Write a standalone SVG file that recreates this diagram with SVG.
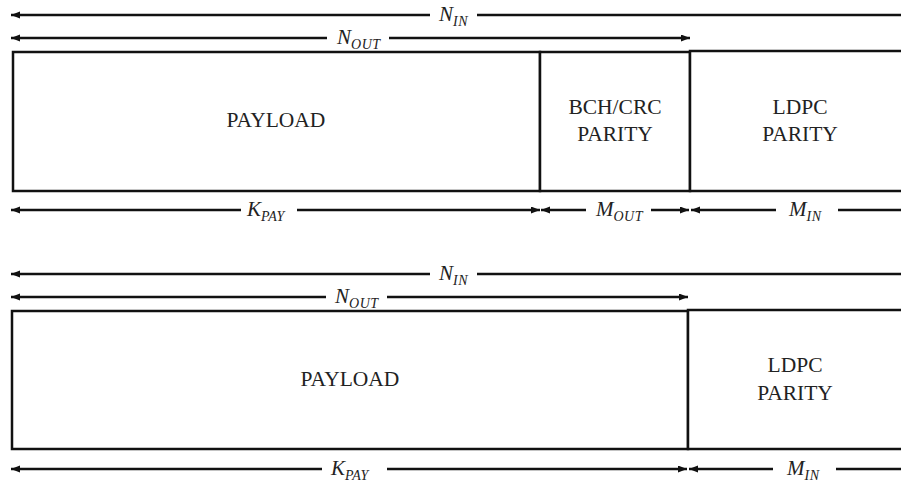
<svg xmlns="http://www.w3.org/2000/svg" width="901" height="484" viewBox="0 0 901 484">
<style>
.box{fill:#fff;stroke:#111;stroke-width:2.5}
.dim{stroke:#111;stroke-width:2.5;fill:none;marker-end:url(#ah)}
.lbl{font-family:"Liberation Serif",serif;font-size:21.5px;fill:#222;text-anchor:middle}
.m{font-family:"Liberation Serif",serif;font-style:italic;font-size:21px;fill:#222}
.s{font-size:14px;letter-spacing:0.5px}
</style>
<defs>
<marker id="ah" markerUnits="userSpaceOnUse" markerWidth="10" markerHeight="8" refX="9" refY="3.5" orient="auto">
<path d="M0,0 L9,3.5 L0,7 z" fill="#111"/>
</marker>
</defs>
<rect width="901" height="484" fill="#fff"/>
<g id="frame1">
<g id="payload1"><rect class="box" x="13" y="52" width="527" height="139"/><text class="lbl" x="276" y="127">PAYLOAD</text></g>
<g id="bchcrc1"><rect class="box" x="540" y="52" width="150" height="139"/><text class="lbl" x="615" y="114">BCH/CRC</text><text class="lbl" x="615" y="141">PARITY</text></g>
<g id="ldpc1"><rect class="box" x="690" y="51" width="225" height="140"/><text class="lbl" x="800" y="114">LDPC</text><text class="lbl" x="800" y="141">PARITY</text></g>
</g>
<g id="frame2">
<g id="payload2"><rect class="box" x="12" y="311" width="676" height="138"/><text class="lbl" x="350" y="386">PAYLOAD</text></g>
<g id="ldpc2"><rect class="box" x="688" y="310" width="227" height="139"/><text class="lbl" x="795" y="372">LDPC</text><text class="lbl" x="795" y="400">PARITY</text></g>
</g>
<g id="connectors">
<path class="dim" d="M430,15 H11"/><path class="dim" style="marker-end:none" d="M477,15 H905"/>
<path class="dim" d="M327,38 H11"/><path class="dim" d="M389,38 H690"/>
<path class="dim" d="M241,210 H11"/><path class="dim" d="M297,210 H540"/>
<path class="dim" d="M586,210 H541"/><path class="dim" d="M651,210 H689"/>
<path class="dim" d="M776,210 H691"/><path class="dim" d="M838,210 H910"/>
<path class="dim" d="M430,274 H11"/><path class="dim" style="marker-end:none" d="M477,274 H905"/>
<path class="dim" d="M326,297 H11"/><path class="dim" d="M387,297 H688"/>
<path class="dim" d="M322,469 H11"/><path class="dim" d="M387,469 H687"/>
<path class="dim" d="M773,469 H689"/><path class="dim" d="M836,469 H910"/>
</g>
<g id="labels">
<text class="m" x="439" y="21">N<tspan class="s" dy="5">IN</tspan></text>
<text class="m" x="337" y="44">N<tspan class="s" dy="5">OUT</tspan></text>
<text class="m" x="247" y="216">K<tspan class="s" dy="5">PAY</tspan></text>
<text class="m" x="596" y="216">M<tspan class="s" dy="5">OUT</tspan></text>
<text class="m" x="789" y="216">M<tspan class="s" dy="5">IN</tspan></text>
<text class="m" x="439" y="280">N<tspan class="s" dy="5">IN</tspan></text>
<text class="m" x="335" y="303">N<tspan class="s" dy="5">OUT</tspan></text>
<text class="m" x="331" y="475">K<tspan class="s" dy="5">PAY</tspan></text>
<text class="m" x="787" y="475">M<tspan class="s" dy="5">IN</tspan></text>
</g>
</svg>
